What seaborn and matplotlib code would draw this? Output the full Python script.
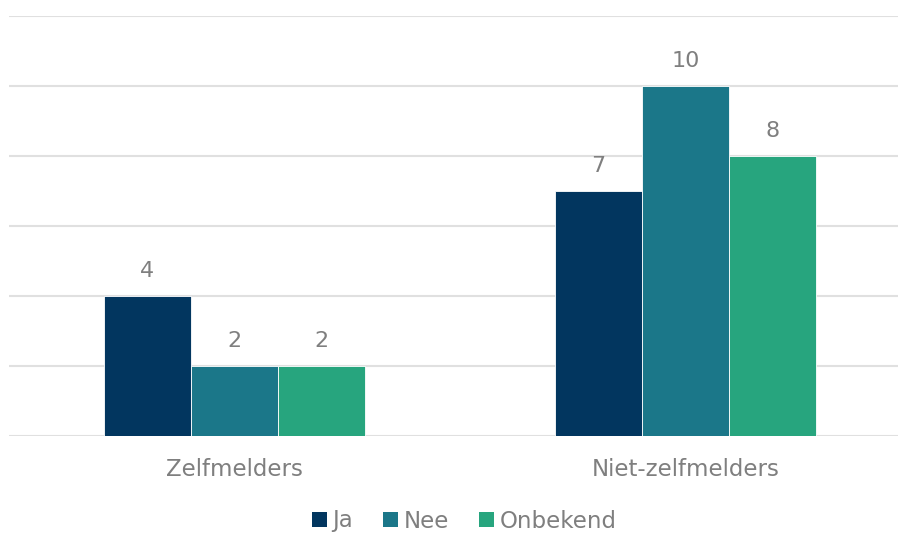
import pandas as pd
import matplotlib.pyplot as plt
import seaborn as sns
from matplotlib.patches import Patch

groepen = ['Zelfmelders', 'Niet-zelfmelders']
categorieen = ['Ja', 'Nee', 'Onbekend']
ja = [4, 7]
nee = [2, 10]
onbekend = [2, 8]
kleuren = ['#02365F', '#1B7789', '#27A57E']

df = pd.DataFrame({
    'Groep': groepen * 3,
    'Antwoord': ['Ja'] * 2 + ['Nee'] * 2 + ['Onbekend'] * 2,
    'Aantal': ja + nee + onbekend,
})

sns.set_style('white')
plt.rcParams['font.family'] = ['DejaVu Sans']
grijs = '#7F7F7F'

fig = plt.figure(figsize=(8.99, 5.36), dpi=100)
ax = fig.add_axes([9 / 899, 1 - 436 / 536, 889 / 899, 420 / 536])

sns.barplot(data=df, x='Groep', y='Aantal', hue='Antwoord', order=groepen,
            hue_order=categorieen, palette=kleuren, saturation=1, width=0.58, gap=0,
            edgecolor='white', linewidth=0.6, legend=False, ax=ax, zorder=3)

for c in ax.containers:
    ax.bar_label(c, labels=[f'{int(v)}' for v in c.datavalues], padding=11,
                 fontsize=16, color=grijs)

ax.set_ylim(0, 12)
ax.set_xlim(-0.5, 1.471)
ax.set_yticks(range(0, 13, 2))
ax.yaxis.grid(True, color='#E0E0E0', linewidth=1.5, zorder=0)
ax.set_yticklabels([])
ax.tick_params(axis='y', length=0)
ax.tick_params(axis='x', length=0, labelsize=16.5, labelcolor=grijs, pad=16)
ax.set_xlabel('')
ax.set_ylabel('')
for s in ax.spines.values():
    s.set_visible(False)

handles = [Patch(facecolor=k, edgecolor='none') for k in kleuren]
fig.legend(handles, categorieen, loc='center', bbox_to_anchor=(464 / 899, 1 - 521 / 536),
           ncol=3, frameon=False, fontsize=16.5, labelcolor=grijs,
           handlelength=0.65, handleheight=0.65, handletextpad=0.25, columnspacing=1.3)

fig.savefig('out.png', dpi=100)
